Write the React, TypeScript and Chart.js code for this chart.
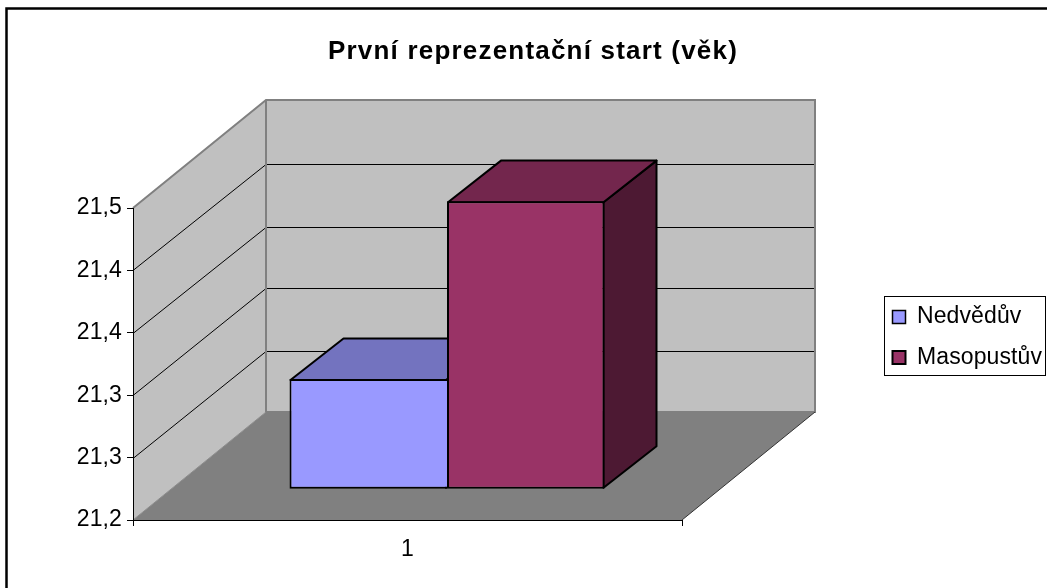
import React, { useEffect, useRef } from "react";
import { Chart, registerables } from "chart.js";

Chart.register(...registerables);

const categories = ["1"];
const seriesNames = ["Nedvědův", "Masopustův"];
const nedveduv = [21.306];
const masopustuv = [21.477];
const chartTitle = "První reprezentační start (věk)";
const axisMin = 21.2;
const axisMax = 21.5;
const axisStep = 0.06;

const FONT = '"Liberation Sans", Arial, sans-serif';
const WALL_DX = 133;
const WALL_DY = 108;
const BACK_GRID_SCALE = 0.994;
const BAR_OFF_X = 39.5;
const BAR_OFF_Y = 30.7;
const BAR_DX = 53;
const BAR_DY = 41.6;
const topColors = ["#7373BF", "#73264D"];
const sideColors = ["#4D4D80", "#4D1933"];

function poly(ctx: any, pts: number[][], fill: string | null, stroke: string | null, lw = 1) {
  ctx.beginPath();
  pts.forEach((p, i) => (i ? ctx.lineTo(p[0], p[1]) : ctx.moveTo(p[0], p[1])));
  ctx.closePath();
  if (fill) {
    ctx.fillStyle = fill;
    ctx.fill();
  }
  if (stroke) {
    ctx.strokeStyle = stroke;
    ctx.lineWidth = lw;
    ctx.lineJoin = "round";
    ctx.stroke();
  }
}

function line(ctx: any, pts: number[][], stroke: string, lw = 1) {
  ctx.beginPath();
  pts.forEach((p, i) => (i ? ctx.lineTo(p[0], p[1]) : ctx.moveTo(p[0], p[1])));
  ctx.strokeStyle = stroke;
  ctx.lineWidth = lw;
  ctx.stroke();
}

function withSpacing(box: any, spacing: string) {
  if (box.__spaced) return;
  box.__spaced = true;
  const orig = box.draw;
  box.draw = function (...args: any[]) {
    const prev = this.ctx.letterSpacing;
    this.ctx.letterSpacing = spacing;
    orig.apply(this, args);
    this.ctx.letterSpacing = prev;
  };
}

const scene3d = {
  id: "scene3d",
  afterLayout(chart: any) {
    if (chart.titleBlock) {
      chart.titleBlock.left = 0;
      chart.titleBlock.right = 1066;
      withSpacing(chart.titleBlock, "1.2px");
    }
    if (chart.legend) {
      const w = chart.legend.width;
      const h = chart.legend.height;
      chart.legend.left = 875;
      chart.legend.top = 288;
      chart.legend.right = 875 + w;
      chart.legend.bottom = 288 + h;
      withSpacing(chart.legend, "0.1px");
    }
  },
  beforeDraw(chart: any) {
    const { ctx, chartArea: a, scales } = chart;
    ctx.letterSpacing = "0.1px";
    const L = a.left, R = a.right, T = a.top, B = a.bottom;
    const dx = WALL_DX, dy = WALL_DY;
    ctx.save();
    // outer frame
    line(ctx, [[6.5, 588], [6.5, 8.5], [1047, 8.5]], "#000000", 2.5);
    // walls
    poly(ctx, [[L, T], [L + dx, T - dy], [L + dx, B - dy], [L, B]], "#C0C0C0", null);
    poly(ctx, [[L + dx, T - dy], [R + dx, T - dy], [R + dx, B - dy], [L + dx, B - dy]], "#C0C0C0", null);
    poly(ctx, [[L, B], [R, B], [R + dx, B - dy], [L + dx, B - dy]], "#808080", null);
    // gridlines
    const yScale = scales.y;
    yScale.ticks.forEach((_: any, i: number) => {
      if (i === 0 || i === yScale.ticks.length - 1) return;
      const y = Math.round(yScale.getPixelForTick(i)) + 0.5;
      const backY = Math.round(B - dy - (B - y) * BACK_GRID_SCALE) + 0.5;
      line(ctx, [[L, y], [L + dx, backY], [R + dx, backY]], "#000000", 1);
    });
    // wall edges
    line(ctx, [[L, T], [L + dx, T - dy], [R + dx, T - dy], [R + dx, B - dy], [L + dx, B - dy], [L + dx, T - dy]], "#808080", 2);
    line(ctx, [[L, B], [L + dx, B - dy]], "#8C8C8C", 1);
    line(ctx, [[R, B], [R + dx, B - dy]], "#333333", 1);
    // legend frame
    ctx.strokeStyle = "#000000";
    ctx.lineWidth = 1;
    ctx.strokeRect(884.5, 296.5, 161, 79);
    ctx.restore();
  },
  beforeDatasetsDraw(chart: any) {
    const { ctx } = chart;
    ctx.save();
    ctx.translate(BAR_OFF_X, -BAR_OFF_Y);
    [0, 1].forEach((idx) => {
      const el = chart.getDatasetMeta(idx).data[0];
      const l = el.x - el.width / 2 + 1;
      const r = el.x + el.width / 2 - 1;
      const t = el.y + 1;
      const b = el.base - 1;
      poly(ctx, [[r, t], [r + BAR_DX, t - BAR_DY], [r + BAR_DX, b - BAR_DY], [r, b]], sideColors[idx], "#000000", 2);
      poly(ctx, [[l, t], [l + BAR_DX, t - BAR_DY], [r + BAR_DX, t - BAR_DY], [r, t]], topColors[idx], "#000000", 2);
    });
  },
  afterDatasetsDraw(chart: any) {
    chart.ctx.restore();
  },
};

export default function App() {
  const ref = useRef<HTMLCanvasElement | null>(null);
  useEffect(() => {
    if (!ref.current) return;
    const chart = new Chart(ref.current, {
      type: "bar",
      data: {
        labels: categories,
        datasets: [
          {
            label: seriesNames[0],
            data: nedveduv,
            base: axisMin,
            clip: false,
            backgroundColor: "#9999FF",
            borderColor: "#000000",
            borderWidth: { top: 2, left: 2, bottom: 2, right: 0 },
            borderSkipped: false,
            inflateAmount: 0,
            barPercentage: 1,
            categoryPercentage: 315 / 549,
          },
          {
            label: seriesNames[1],
            data: masopustuv,
            base: axisMin,
            clip: false,
            backgroundColor: "#993366",
            borderColor: "#000000",
            borderWidth: 2,
            borderSkipped: false,
            inflateAmount: 0,
            barPercentage: 1,
            categoryPercentage: 315 / 549,
          },
        ],
      },
      options: {
        responsive: false,
        animation: false,
        layout: { autoPadding: false, padding: { left: 0, right: 365, top: 0, bottom: 0 } },
        plugins: {
          title: {
            display: true,
            text: chartTitle,
            color: "#000000",
            font: { family: FONT, size: 26, weight: "bold", lineHeight: 1.2 },
            padding: { top: 36, bottom: 140.8 },
          },
          legend: {
            display: true,
            position: "chartArea",
            align: "start",
            labels: {
              boxWidth: 13,
              boxHeight: 13,
              padding: 17.5,
              color: "#000000",
              font: { family: FONT, size: 23 },
            },
          },
          tooltip: { enabled: false },
        },
        scales: {
          x: {
            grid: { drawOnChartArea: false, drawTicks: true, tickLength: 6, color: "#000000" },
            border: { color: "#000000", width: 1 },
            ticks: { color: "#000000", padding: 10, font: { family: FONT, size: 23 } },
            afterFit(s: any) {
              s.height = 68;
            },
          },
          y: {
            min: axisMin,
            max: axisMax,
            grid: { drawOnChartArea: false, drawTicks: true, tickLength: 6, color: "#000000" },
            border: { color: "#000000", width: 1 },
            ticks: {
              stepSize: axisStep,
              autoSkip: false,
              color: "#000000",
              padding: 5,
              font: { family: FONT, size: 23 },
              callback: (v: any) => Number(v).toFixed(1).replace(".", ","),
            },
            afterFit(s: any) {
              s.width = 133;
            },
          },
        },
      } as any,
      plugins: [scene3d as any],
    });
    return () => chart.destroy();
  }, []);
  return (
    <canvas
      ref={ref}
      width={1047}
      height={588}
      style={{ display: "block", position: "fixed", left: 0, top: 0, width: 1047, height: 588 }}
    />
  );
}
